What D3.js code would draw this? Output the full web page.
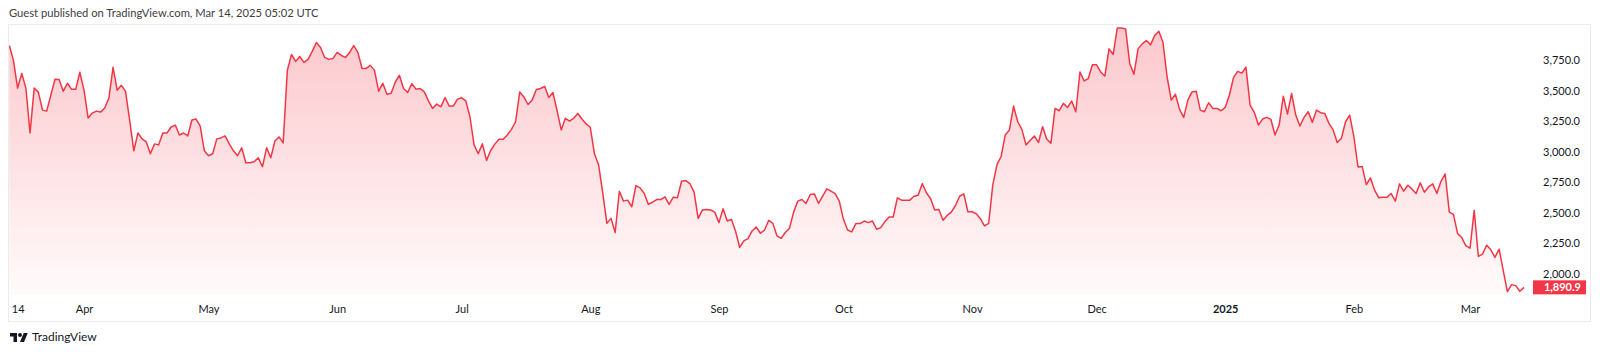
<!DOCTYPE html>
<html>
<head>
<meta charset="utf-8">
<title>ETH daily close - TradingView snapshot</title>
<script src="https://cdn.jsdelivr.net/npm/d3@7"></script>
<style>
  html, body { margin: 0; padding: 0; background: #fff; }
  svg { display: block; font-family: Lato, "Open Sans", sans-serif; }
</style>
</head>
<body>
<svg id="chart"></svg>
<script>
// Daily close line/area chart, Mar 14 2024 -> Mar 14 2025
// Values read off the snapshot, one per day

const W = 1600, H = 355;

const startDate = new Date(Date.UTC(2024, 2, 14));

// Mar 14 - Jun 16 2024
const closesSpring = [
  3868, 3747, 3520, 3640, 3520, 3153, 3520, 3487, 3340, 3332,
  3462, 3592, 3590, 3495, 3560, 3510, 3510, 3650, 3503, 3275,
  3316, 3332, 3324, 3357, 3438, 3690, 3503, 3543, 3495, 3259,
  3007, 3153, 3105, 3080, 2983, 3064, 3056, 3153, 3153, 3202,
  3218, 3137, 3153, 3129, 3259, 3267, 3210, 3007, 2967, 2983,
  3105, 3113, 3129, 3064, 3007, 2967, 3032, 2910, 2910, 2918,
  2950, 2877, 3032, 2950, 3088, 3121, 3072, 3665, 3795, 3738,
  3779, 3730, 3755, 3820, 3893, 3852, 3771, 3755, 3763, 3812,
  3787, 3771, 3812, 3868, 3812, 3681, 3681, 3706, 3665, 3495,
  3560, 3470, 3478, 3568, 3625
];

// Jun 17 - Sep 20 2024
const closesSummer = [
  3517, 3484, 3557, 3511, 3517, 3489, 3416, 3354, 3389, 3367,
  3443, 3373, 3373, 3430, 3441, 3416, 3286, 3056, 2983, 3064,
  2929, 3010, 3062, 3102, 3102, 3137, 3183, 3245, 3489, 3448,
  3386, 3422, 3508, 3517, 3535, 3443, 3484, 3335, 3178, 3273,
  3251, 3273, 3313, 3267, 3227, 3200, 2983, 2894, 2664, 2414,
  2455, 2339, 2677, 2596, 2604, 2550, 2723, 2704, 2658, 2569,
  2587, 2609, 2609, 2631, 2569, 2628, 2623, 2758, 2764, 2739,
  2672, 2455, 2523, 2528, 2523, 2506, 2420, 2534, 2433, 2447,
  2352, 2217, 2271, 2290, 2352, 2384, 2333, 2360, 2439, 2414,
  2311, 2292, 2339, 2374, 2506, 2596
];

// Sep 21 - Dec 25 2024
const closesAutumn = [
  2609, 2577, 2650, 2655, 2577, 2636, 2696, 2677, 2658, 2596,
  2447, 2360, 2344, 2412, 2412, 2433, 2420, 2433, 2366, 2379,
  2428, 2466, 2466, 2623, 2604, 2604, 2604, 2636, 2644, 2739,
  2664, 2615, 2523, 2528, 2439, 2479, 2506, 2560, 2636, 2655,
  2509, 2509, 2493, 2452, 2393, 2414, 2731, 2894, 2961, 3137,
  3178, 3373, 3245, 3183, 3056, 3091, 3129, 3075, 3205, 3102,
  3070, 3354, 3335, 3395, 3362, 3414, 3327, 3652, 3579, 3598,
  3711, 3711, 3652, 3619, 3841, 3795, 4012, 4012, 4004, 3720,
  3633, 3841, 3882, 3909, 3874, 3950, 3985, 3895, 3611, 3422,
  3470, 3346, 3281, 3422, 3489, 3495
];

// Dec 26 2024 - Mar 14 2025
const closesWinter = [
  3340, 3327, 3400, 3354, 3354, 3335, 3362, 3462, 3606, 3657,
  3643, 3692, 3381, 3322, 3218, 3267, 3281, 3265, 3137, 3218,
  3454, 3308, 3476, 3300, 3210, 3281, 3327, 3240, 3340, 3319,
  3313, 3232, 3178, 3075, 3110, 3245, 3300, 3124, 2875, 2880,
  2731, 2785, 2685, 2623, 2628, 2628, 2658, 2596, 2737, 2677,
  2726, 2696, 2658, 2745, 2669, 2712, 2737, 2658, 2758, 2818,
  2506, 2487, 2330, 2298, 2230, 2211, 2520, 2144, 2162, 2236,
  2198, 2136, 2203, 2027, 1856, 1913, 1905, 1859, 1890.9
];

const priceTicks = [2000, 2250, 2500, 2750, 3000, 3250, 3500, 3750];

const timeTicks = [
  [2024, 2, 14, '14'], [2024, 3, 1, 'Apr'], [2024, 4, 1, 'May'], [2024, 5, 1, 'Jun'],
  [2024, 6, 1, 'Jul'], [2024, 7, 1, 'Aug'], [2024, 8, 1, 'Sep'], [2024, 9, 1, 'Oct'],
  [2024, 10, 1, 'Nov'], [2024, 11, 1, 'Dec'], [2025, 0, 1, '2025'], [2025, 1, 1, 'Feb'],
  [2025, 2, 1, 'Mar']
];

const headerText = 'Guest published on TradingView.com, Mar 14, 2025 05:02 UTC';

const LINE_COLOR = '#f23645';

// build dated series
const closes = [].concat(closesSpring, closesSummer, closesAutumn, closesWinter);
const DAY = 24 * 3600 * 1000;
const series = closes.map((v, i) => ({ date: new Date(startDate.getTime() + i * DAY), value: v }));
const lastPoint = series[series.length - 1];

const svg = d3.select('#chart')
  .attr('width', W)
  .attr('height', H)
  .attr('viewBox', `0 0 ${W} ${H}`);

// Frame
const FRAME = { x: 8.5, y: 24.5, w: 1582, h: 297 };
const PLOT_BOTTOM = 295;

const x = d3.scaleUtc()
  .domain([startDate, lastPoint.date])
  .range([9.3, 1524]);

const y = d3.scaleLinear()
  .domain([2000, 3750])
  .range([274, 60]);

// gradient for the area
const defs = svg.append('defs');
const grad = defs.append('linearGradient')
  .attr('id', 'areaGrad')
  .attr('gradientUnits', 'userSpaceOnUse')
  .attr('x1', 0).attr('x2', 0)
  .attr('y1', FRAME.y).attr('y2', PLOT_BOTTOM);
grad.append('stop').attr('offset', 0).attr('stop-color', LINE_COLOR).attr('stop-opacity', 0.28);
grad.append('stop').attr('offset', 1).attr('stop-color', LINE_COLOR).attr('stop-opacity', 0.02);

defs.append('clipPath').attr('id', 'plotClip')
  .append('rect')
  .attr('x', FRAME.x + 0.5).attr('y', FRAME.y + 0.5)
  .attr('width', 1530).attr('height', PLOT_BOTTOM - FRAME.y);

// header
svg.append('text')
  .attr('x', 9)
  .attr('y', 17)
  .attr('fill', '#404040')
  .style('font-size', '11.2px')
  .text(headerText);

svg.append('rect')
  .attr('x', FRAME.x).attr('y', FRAME.y)
  .attr('width', FRAME.w).attr('height', FRAME.h)
  .attr('fill', '#fff')
  .attr('stroke', '#e9ebef')
  .attr('stroke-width', 1);

const plot = svg.append('g').attr('clip-path', 'url(#plotClip)');

const area = d3.area()
  .x(d => x(d.date))
  .y0(PLOT_BOTTOM)
  .y1(d => y(d.value));

const line = d3.line()
  .x(d => x(d.date))
  .y(d => y(d.value));

plot.append('path')
  .datum(series)
  .attr('d', area)
  .attr('fill', 'url(#areaGrad)');

plot.append('path')
  .datum(series)
  .attr('d', line)
  .attr('fill', 'none')
  .attr('stroke', LINE_COLOR)
  .attr('stroke-width', 1.5)
  .attr('stroke-linejoin', 'round');

// time axis
const tickDates = timeTicks.map(t => new Date(Date.UTC(t[0], t[1], t[2])));
const tickLabels = new Map(tickDates.map((d, i) => [d.getTime(), timeTicks[i][3]]));

const xAxisG = svg.append('g')
  .attr('transform', 'translate(0,302)')
  .call(d3.axisBottom(x)
    .tickValues(tickDates)
    .tickSize(0)
    .tickFormat(d => tickLabels.get(d.getTime())));

xAxisG.select('.domain').remove();
xAxisG.selectAll('text')
  .attr('y', 0)
  .attr('dy', '11px')
  .attr('fill', '#131722')
  .style('font-size', '11px')
  .style('font-family', 'Lato, sans-serif')
  .style('font-weight', d => tickLabels.get(d.getTime()) === '2025' ? 'bold' : 'normal');
// first label sits against the left edge
xAxisG.selectAll('.tick')
  .filter(d => d.getTime() === startDate.getTime())
  .select('text')
  .attr('text-anchor', 'start')
  .attr('x', 2);

// price axis
const yAxisG = svg.append('g')
  .attr('transform', 'translate(1580,0)')
  .call(d3.axisRight(y)
    .tickValues(priceTicks)
    .tickSize(0)
    .tickFormat(d3.format(',.1f')));

yAxisG.select('.domain').remove();
yAxisG.selectAll('text')
  .attr('x', 0)
  .attr('dy', '0.32em')
  .attr('text-anchor', 'end')
  .attr('fill', '#131722')
  .style('font-size', '11px')
  .style('font-family', 'Lato, sans-serif');

// last price badge
const lastY = y(lastPoint.value);
svg.append('rect')
  .attr('x', 1533)
  .attr('y', lastY - 7)
  .attr('width', 53)
  .attr('height', 14)
  .attr('fill', LINE_COLOR);

svg.append('text')
  .attr('x', 1581)
  .attr('y', lastY)
  .attr('dy', '0.35em')
  .attr('text-anchor', 'end')
  .attr('fill', '#fff')
  .style('font-size', '11px')
  .style('font-weight', 'bold')
  .text(d3.format(',.1f')(lastPoint.value));

// footer logo
const logo = svg.append('g')
  .attr('transform', 'translate(10,331) scale(0.5)')
  .attr('fill', '#131722');
logo.append('path').attr('d', 'M14 22H7V11H0V4h14v18zM28 22h-8l7.5-18h8L28 22z');
logo.append('circle').attr('cx', 20).attr('cy', 8).attr('r', 4);

svg.append('text')
  .attr('x', 32)
  .attr('y', 341)
  .attr('fill', '#131722')
  .style('font-size', '12px')
  .text('TradingView');
</script>
</body>
</html>
